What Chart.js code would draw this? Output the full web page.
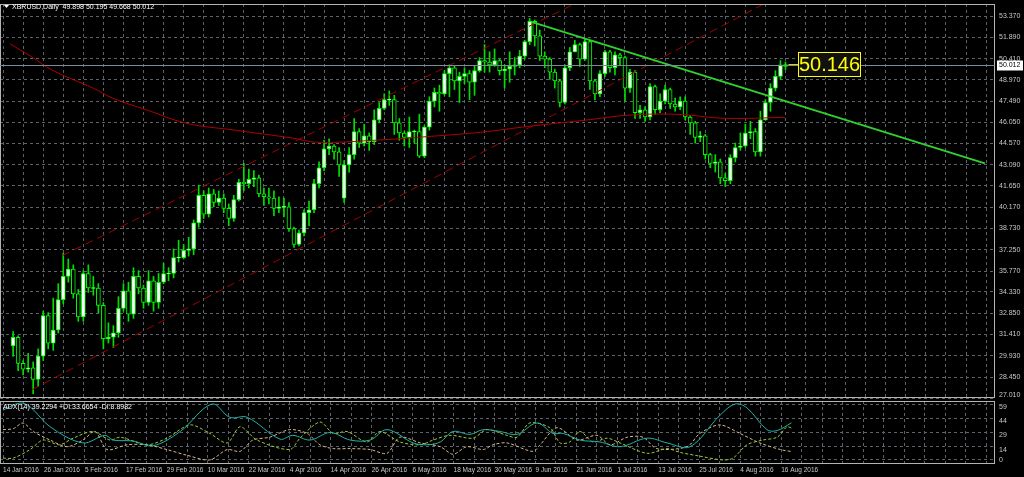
<!DOCTYPE html>
<html><head><meta charset="utf-8">
<script src="https://cdn.jsdelivr.net/npm/chart.js@4"></script>
<style>
html,body{margin:0;padding:0;background:#000;width:1024px;height:477px;overflow:hidden}
#c1{position:absolute;left:0;top:0}
#c2{position:absolute;left:0;top:399px}
</style></head><body>
<canvas id="c1" width="1024" height="399"></canvas>
<canvas id="c2" width="1024" height="78"></canvas>
<script>
const dateLabels=["14 Jan 2016","26 Jan 2016","5 Feb 2016","17 Feb 2016","29 Feb 2016","10 Mar 2016","22 Mar 2016","4 Apr 2016","14 Apr 2016","26 Apr 2016","6 May 2016","18 May 2016","30 May 2016","9 Jun 2016","21 Jun 2016","1 Jul 2016","13 Jul 2016","25 Jul 2016","4 Aug 2016","16 Aug 2016"];
const priceTicks=[53.37,51.89,50.41,48.97,47.49,46.05,44.57,43.09,41.65,40.17,38.73,37.25,35.77,34.33,32.85,31.41,29.93,28.45,27.01];
const adxTicks=[0,14,29,44,59];
const opens=[30.6,31.2,29.4,29.0,29.1,28.3,29.9,32.7,30.8,31.7,33.8,35.4,35.9,34.2,32.6,35.6,34.6,34.6,33.4,31.1,31.2,31.5,33.2,34.4,32.8,35.4,34.6,33.6,35.1,33.6,35.0,35.6,35.6,36.7,36.7,37.2,
37.3,39.1,41.0,39.7,41.1,40.5,40.8,40.1,39.4,40.7,41.9,41.8,42.1,42.2,41.1,40.9,40.8,40.1,40.2,40.2,38.7,37.6,38.4,39.8,40.0,41.8,42.9,44.2,44.4,44.0,40.8,43.1,43.8,45.4,44.6,45.1,44.7,46.2,
47.0,47.6,47.6,46.0,45.3,45.0,45.4,45.4,43.7,45.7,47.5,48.1,48.0,49.4,49.8,48.9,49.2,49.4,48.8,49.6,50.3,50.2,50.0,50.3,49.6,49.7,49.9,50.0,50.6,51.6,53.0,52.0,50.6,50.4,49.5,48.9,47.4,49.8,50.9,51.4,
50.4,51.6,48.9,48.0,49.4,50.9,49.8,50.7,50.5,48.4,49.5,46.7,46.9,46.4,48.5,46.9,47.5,48.3,47.3,47.1,47.5,46.4,46.0,45.0,45.1,43.8,43.2,43.3,42.2,42.0,43.6,44.3,44.4,45.3,45.4,44.0,46.2,47.4,48.4,49.2,49.898];
const closes=[31.2,29.4,29.0,29.1,28.3,29.9,32.7,30.8,31.7,33.8,35.4,35.9,34.2,32.6,35.6,34.6,34.6,33.4,31.1,31.2,31.5,33.2,34.4,32.8,35.4,34.6,33.6,35.1,33.6,35.0,35.6,35.6,36.7,36.7,37.2,37.3,
39.1,41.0,39.7,41.1,40.5,40.8,40.1,39.4,40.7,41.9,41.8,42.1,42.2,41.1,40.9,40.8,40.1,40.2,40.2,38.7,37.6,38.4,39.8,40.0,41.8,42.9,44.2,44.4,44.0,43.1,43.1,43.8,45.4,44.6,45.1,44.7,46.2,47.0,
47.6,47.6,46.0,45.3,45.0,45.4,45.4,43.7,45.7,47.5,48.1,48.0,49.4,49.8,48.9,49.2,49.4,48.8,49.6,50.3,50.2,50.0,50.3,49.6,49.7,49.9,50.0,50.6,51.6,53.0,52.0,50.6,50.4,49.5,48.9,47.4,49.8,50.9,51.4,50.4,
51.6,48.9,48.0,49.4,50.9,49.8,50.7,50.5,48.4,49.5,46.7,46.9,46.4,48.5,46.9,47.5,48.3,47.3,47.1,47.5,46.4,46.0,45.0,45.1,43.8,43.2,43.3,42.2,42.0,43.6,44.3,44.4,45.3,45.4,44.0,46.2,47.4,48.4,49.2,50.0,50.012];
const highs=[31.6,31.3,29.6,30.1,29.5,30.4,33.0,32.9,33.9,34.9,37.0,36.6,36.2,34.5,35.8,36.2,35.4,34.9,33.6,32.2,32.0,34.0,34.9,35.0,36.0,35.8,34.8,35.8,35.4,35.6,36.3,36.0,37.3,37.9,37.6,38.1,
39.3,41.7,41.3,41.5,41.4,41.3,41.1,40.4,41.0,42.1,43.2,42.8,42.7,42.4,41.5,41.5,41.3,40.9,40.8,40.5,38.8,38.6,40.0,40.6,42.1,43.3,44.8,44.9,44.5,44.3,43.4,44.3,46.3,45.6,45.9,45.3,46.9,47.4,
48.0,48.2,47.9,46.3,45.4,46.4,45.5,46.6,45.8,47.8,48.4,48.6,49.6,50.0,49.9,49.5,49.8,49.6,49.9,50.5,51.4,50.9,51.1,50.4,50.0,50.9,50.5,51.0,51.7,53.2,53.1,52.4,50.9,50.5,49.7,49.0,50.0,51.2,51.7,51.5,
51.8,51.7,49.0,49.6,51.0,51.0,50.9,50.8,50.6,49.7,49.6,47.2,47.1,48.7,48.6,48.0,48.6,48.4,47.7,47.8,47.8,46.5,46.1,45.4,45.2,43.9,43.8,43.5,42.5,43.8,44.6,45.3,45.9,46.1,45.6,46.8,47.6,48.7,49.6,50.3,50.195];
const lows=[29.9,28.9,28.6,28.8,27.3,27.8,29.6,30.4,30.3,31.5,33.5,35.0,33.9,32.3,32.3,34.3,34.1,32.9,30.4,30.8,30.5,31.2,33.0,32.3,32.5,34.2,33.2,33.4,33.0,33.2,34.9,35.1,35.3,36.4,36.6,36.8,
36.9,38.8,39.4,39.5,40.2,40.3,39.8,38.9,39.2,40.6,41.3,41.5,41.6,40.9,40.3,40.4,39.6,39.8,39.5,38.5,37.4,37.5,38.2,38.9,39.8,41.5,42.7,43.8,43.5,42.3,40.5,42.6,43.5,44.3,44.4,44.1,44.5,46.0,
46.9,47.2,45.2,44.8,44.4,44.3,44.6,43.6,43.6,45.5,47.1,46.8,47.9,47.8,48.3,47.4,48.7,47.6,47.9,49.5,49.5,49.5,49.9,49.3,48.4,48.8,49.3,49.8,50.4,51.4,51.3,50.3,49.8,49.0,48.4,47.1,47.3,49.6,50.9,49.9,
50.3,48.3,47.6,47.8,49.2,49.5,49.3,50.0,47.5,48.1,46.3,46.3,46.1,46.2,46.6,46.7,47.3,47.0,46.8,46.9,46.2,45.2,44.6,44.7,43.5,42.9,42.6,41.8,41.6,41.8,43.3,44.1,44.3,44.9,43.7,43.7,46.2,46.8,48.2,49.0,49.668];
const maIdx=[-0.6,3.5,7.8,16,19.9,26.8,34.6,44.3,56,60.5,71.7,83.4,93.2,102.9,114,122.5,132.2,142,154];
const maVal=[51.45,50.6,49.64,48.39,47.7,46.87,45.97,45.49,44.93,44.66,44.79,45.07,45.35,45.76,46.18,46.52,46.59,46.31,46.38];
const chanUpper=[[9.8,36.84],[111.5,54.13]];
const chanLower=[[3.7,27.57],[152.7,54.75]];
const trendLine=[[103.5,52.95],[193.75,43.2]];
const adxIdx=[0,3.3,5.3,9.2,15.6,19.9,21.5,25.4,29.3,34.6,40.8,44.3,47.7,54.1,56.6,60,63.9,67.8,71.7,75,80.1,82.8,85.4,87.9,91.2,93.8,97.1,100.4,104.3,107.4,109.4,112.7,116.6,120.5,125.8,129.7,134.2,140,143,145.3,149.2,151.2,154];
const adxVal=[52.6,60,56,35,18,26,21,20,15,30,59,45,45,22,26,21,29,21,21,32,18,16,19,30,27,32,30,27,39,28,28,21,19,14,23,18,14,47,59,55,32,31,39.2];
const pdiIdx=[0,2,5.3,7.8,11,13.7,17.6,20.9,22.9,28.1,32,36.5,40.4,43.8,46.3,49.6,56,58,61.9,64.5,67.2,71.1,73.6,77.5,81.5,84,87.3,91.8,94.5,98.4,100.4,102.9,106.8,108.8,110.7,112.7,115.2,118,120.5,125.8,129.7,132.2,136.1,140.6,142.6,145.3,148.4,151.2,153.1,154];
const pdiVal=[2,2,11,21,16,23,30,21,24,16,23,37,28,18,35,21,11,23,40,28,30,19,30,19,16,21,26,23,32,26,24,39,34,18,19,30,19,23,18,7,12,8,4,0,2,16,21,24,35,33.7];
const mdiIdx=[0,2,3.9,5.9,9.2,12.5,15.6,18,20.3,24.2,28.1,32,35.9,40.4,43.8,46.3,48.8,52.1,56,59.4,61.9,64.5,67.8,71.7,75,77.5,81.5,85.4,87.9,90.6,93.8,95.7,98.4,103.5,104.9,108.2,112.1,116,118.6,121.9,125,127.7,133.6,136.1,140,143.9,147.8,151.8,154];
const mdiVal=[32,33,39,30,21,14,21,30,11,16,16,11,5,0,11,9,21,24,32,28,16,12,12,11,7,24,18,14,6,14,11,16,18,9,16,34,21,26,16,24,24,12,14,28,37,28,18,11,8.9];

const XMIN=-0.59, XMAX=193.75;
const FONT='"Liberation Sans", Arial, sans-serif';
const GRID='#5c636b';
const pts=(ix,v)=>ix.map((x,i)=>({x:x,y:v[i]}));
const seg=a=>a.map(p=>({x:p[0],y:p[1]}));
const bodies=opens.map((o,i)=>{const c=closes[i];return {x:i,y:Math.abs(o-c)<0.03?[o-0.03,o+0.03]:[o,c]};});
const wicks=lows.map((l,i)=>({x:i,y:[l,highs[i]]}));
const gridTicks=[];for(let v=0;v<=192;v+=4)gridTicks.push(v);

function yLabels(ch,vals,fmt,dy){
  const g=ch.ctx,a=ch.chartArea,ys=ch.scales.y;
  g.fillStyle='#c8c8c8';g.font='7px '+FONT;g.textBaseline='middle';g.textAlign='left';
  vals.forEach(v=>{let y=ys.getPixelForValue(v)+dy;if(y>a.bottom-3)y=a.bottom-3;g.fillText(fmt(v),a.right+4,y);});
}
const overlay={id:'ov',afterDraw(ch){
  const g=ch.ctx,a=ch.chartArea,ys=ch.scales.y,xs=ch.scales.x;
  g.save();
  g.strokeStyle='#b4b4b4';g.lineWidth=1;
  g.strokeRect(a.left+0.5,a.top+0.5,a.right-a.left-1,a.bottom-a.top-1);
  yLabels(ch,priceTicks,v=>v.toFixed(3),0);
  const yl=Math.round(ys.getPixelForValue(50.012))+0.5;
  g.strokeStyle='#7a8a99';g.beginPath();g.moveTo(a.left,yl);g.lineTo(a.right,yl);g.stroke();
  g.fillStyle='#fff';g.fillRect(a.right+2,yl-5,26,10);
  g.fillStyle='#000';g.font='7px '+FONT;g.textBaseline='middle';g.textAlign='left';
  g.fillText('50.012',a.right+4,yl);
  g.fillStyle='#fff';g.beginPath();g.moveTo(4,5);g.lineTo(9,5);g.lineTo(6.5,8);g.closePath();g.fill();
  g.font='7px '+FONT;g.fillText('XBRUSD,Daily  49.898 50.195 49.668 50.012',12,7);
  const xb=xs.getPixelForValue(154);
  g.strokeStyle='#d8d800';g.beginPath();g.moveTo(xb+3,yl-1);g.lineTo(798,yl-1);g.stroke();
  g.fillStyle='#111';g.fillRect(798,52,63,25);
  g.strokeStyle='#ffff00';g.strokeRect(798.5,52.5,62,24);
  g.fillStyle='#ffff00';g.font='20px '+FONT;g.textAlign='center';
  g.fillText('50.146',829.5,65);
  g.restore();
}};

new Chart(document.getElementById('c1'),{
  type:'bar',
  data:{datasets:[
    {type:'line',data:seg(trendLine),borderColor:'#2fd12f',borderWidth:2,pointRadius:0,order:0},
    {type:'line',data:seg(chanUpper),borderColor:'#a00000',borderWidth:1,borderDash:[8,5],pointRadius:0,order:0},
    {type:'line',data:seg(chanLower),borderColor:'#a00000',borderWidth:1,borderDash:[8,5],pointRadius:0,order:0},
    {type:'line',data:pts(maIdx,maVal),borderColor:'#b00000',borderWidth:1,pointRadius:0,tension:0.4,order:0},
    {data:bodies,grouped:false,barThickness:4,borderWidth:1,borderColor:'#00ff00',borderSkipped:false,
      backgroundColor:c=>closes[c.dataIndex]>=opens[c.dataIndex]?'#ffffff':'#000000',order:1},
    {data:wicks,grouped:false,barThickness:1,backgroundColor:'#00e000',borderWidth:0,order:2}
  ]},
  options:{animation:false,responsive:false,devicePixelRatio:1,
    layout:{padding:{top:4,bottom:1,left:0,right:29}},
    plugins:{legend:{display:false},tooltip:{enabled:false}},
    scales:{
      x:{type:'linear',min:XMIN,max:XMAX,afterBuildTicks:s=>{s.ticks=gridTicks.map(v=>({value:v}));},
        ticks:{display:false},grid:{color:GRID,drawTicks:false},border:{display:false,dash:[3,3]},afterFit:s=>{s.height=0;}},
      y:{position:'right',min:27.01,max:54.2,afterBuildTicks:s=>{s.ticks=priceTicks.map(v=>({value:v}));},
        ticks:{display:false},
        grid:{color:GRID,drawTicks:false},border:{display:false,dash:[3,3]},afterFit:s=>{s.width=0;}}
    }},
  plugins:[overlay]
});

const overlay2={id:'ov2',afterDraw(ch){
  const g=ch.ctx,a=ch.chartArea;
  g.save();g.strokeStyle='#b4b4b4';g.lineWidth=1;
  g.strokeRect(a.left+0.5,a.top+0.5,a.right-a.left-1,a.bottom-a.top);
  yLabels(ch,adxTicks,v=>String(v),3);
  g.fillStyle='#fff';g.font='7px '+FONT;g.textBaseline='middle';g.textAlign='left';
  g.fillText('ADX(14) 39.2294 +DI:33.6654 -DI:8.8982',3,a.top+6);
  g.restore();
}};
new Chart(document.getElementById('c2'),{
  type:'line',
  data:{datasets:[
    {data:pts(adxIdx,adxVal),borderColor:'#20b2aa',borderWidth:1,pointRadius:0,tension:0.35},
    {data:pts(pdiIdx,pdiVal),borderColor:'#9acd32',borderWidth:1,borderDash:[3,2],pointRadius:0,tension:0.3},
    {data:pts(mdiIdx,mdiVal),borderColor:'#d8b890',borderWidth:1,borderDash:[3,2],pointRadius:0,tension:0.3}
  ]},
  options:{animation:false,responsive:false,devicePixelRatio:1,
    layout:{padding:{top:2,bottom:0,left:0,right:29}},
    plugins:{legend:{display:false},tooltip:{enabled:false}},
    scales:{
      x:{type:'linear',min:XMIN,max:XMAX,afterBuildTicks:s=>{s.ticks=gridTicks.map(v=>({value:v}));},
        ticks:{color:'#c8c8c8',font:{family:FONT,size:6.5},align:'start',maxRotation:0,autoSkip:false,padding:3,
          callback:v=>(v%8===0&&dateLabels[v/8])?dateLabels[v/8]:''},
        grid:{color:GRID,drawTicks:false},border:{display:false,dash:[3,3]},afterFit:s=>{s.height=14;}},
      y:{position:'right',min:-3.2,max:62.2,afterBuildTicks:s=>{s.ticks=adxTicks.map(v=>({value:v}));},
        ticks:{display:false},
        grid:{color:GRID,drawTicks:false},border:{display:false,dash:[3,3]},afterFit:s=>{s.width=0;}}
    }}
  ,plugins:[overlay2]
});
</script></body></html>
